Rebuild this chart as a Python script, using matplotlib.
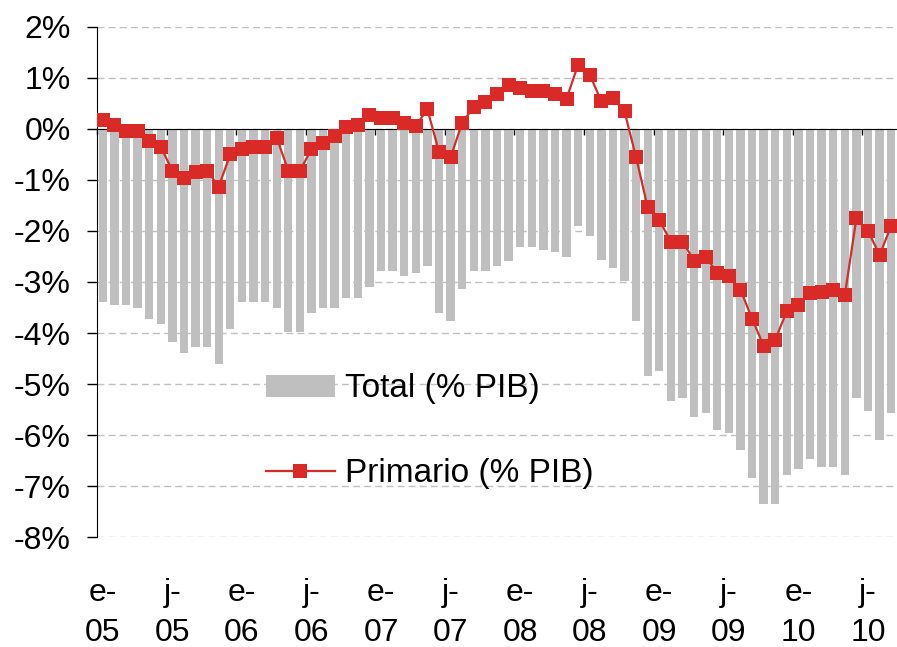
import matplotlib.pyplot as plt
import numpy as np

# ---------------------------------------------------------------
# DATA  (monthly, Jan 2005 - Sep 2010, % of GDP)
# ---------------------------------------------------------------

tick_labels = ["e-\n05", "j-\n05", "e-\n06", "j-\n06", "e-\n07", "j-\n07",
               "e-\n08", "j-\n08", "e-\n09", "j-\n09", "e-\n10", "j-\n10"]

total = [-3.40, -3.46, -3.46, -3.51, -3.72, -3.82, -4.18, -4.40, -4.28, -4.28,
         -4.60, -3.92, -3.40, -3.40, -3.40, -3.51, -3.97, -3.97, -3.61, -3.51,
         -3.51, -3.31, -3.31, -3.09, -2.78, -2.78, -2.88, -2.83, -2.68, -3.61,
         -3.76, -3.14, -2.78, -2.78, -2.68, -2.58, -2.32, -2.32, -2.37, -2.42,
         -2.52, -1.90, -2.10, -2.57, -2.72, -2.98, -3.76, -4.85, -4.75, -5.33,
         -5.27, -5.64, -5.57, -5.90, -5.95, -6.30, -6.83, -7.35, -7.35, -6.78,
         -6.67, -6.47, -6.63, -6.63, -6.78, -5.27, -5.53, -6.09, -5.57]

primario = [0.17, 0.08, -0.04, -0.04, -0.23, -0.35, -0.82, -0.96, -0.85, -0.82,
            -1.13, -0.50, -0.40, -0.35, -0.35, -0.17, -0.82, -0.82, -0.40, -0.28,
            -0.14, 0.03, 0.08, 0.27, 0.22, 0.22, 0.12, 0.06, 0.38, -0.45,
            -0.56, 0.12, 0.43, 0.53, 0.69, 0.85, 0.80, 0.74, 0.74, 0.69,
            0.59, 1.26, 1.06, 0.54, 0.60, 0.34, -0.56, -1.54, -1.79, -2.21,
            -2.21, -2.58, -2.51, -2.82, -2.89, -3.15, -3.72, -4.25, -4.13, -3.57,
            -3.46, -3.21, -3.20, -3.15, -3.26, -1.75, -2.00, -2.47, -1.90]

GRAY = "#BFBFBF"
RED = "#D92A27"

plt.rcParams["font.family"] = ["Liberation Sans", "DejaVu Sans"]

# ---------------------------------------------------------------
# PLOT
# ---------------------------------------------------------------

fig = plt.figure(figsize=(8.97, 6.47), dpi=100)
ax = fig.add_axes([0.1081, 0.1696, 0.8919, 0.7891])

x = np.arange(len(total))
bars = ax.bar(x, total, width=0.72, color=GRAY, zorder=2, label="Total (% PIB)")
line, = ax.plot(x, primario, color=RED, lw=1.6, marker="s", markersize=10,
                markeredgewidth=0, zorder=4, label="Primario (% PIB)")

ax.set_xlim(-0.5, len(total) - 0.5)
ax.set_ylim(-8, 2)

# y axis
ax.set_yticks(np.arange(-8, 3, 1))
ax.set_yticklabels([f"{v}%" for v in range(-8, 3)])
ax.tick_params(axis="y", direction="out", length=7, width=1, pad=12,
               labelsize=23, colors="black")
ax.grid(axis="y", color="#C0C0C0", lw=1, linestyle=(0, (5, 3)), zorder=0)
ax.set_axisbelow(True)

# zero line with tick marks at half-year boundaries
ax.spines["bottom"].set_position(("data", 0))
ax.spines["bottom"].set_zorder(3)
ax.spines["top"].set_visible(False)
ax.spines["right"].set_visible(False)
ax.spines["left"].set_color("black")
ax.set_xticks(np.arange(-0.5, len(total), 6))
ax.tick_params(axis="x", direction="out", length=4.3, width=1, labelbottom=False)

# labels at the bottom of the plot
sec = ax.secondary_xaxis("bottom")
sec.set_xticks(np.arange(0, len(total), 6))
sec.set_xticklabels(tick_labels, linespacing=1.45)
sec.tick_params(length=0, pad=29, labelsize=23)
sec.spines["bottom"].set_visible(False)

ax.legend([bars, line], ["Total (% PIB)", "Primario (% PIB)"],
          loc="upper left", bbox_to_anchor=(0.195, 0.347), frameon=False,
          fontsize=24, handlelength=2.05, handleheight=0.62,
          handletextpad=0.3, labelspacing=1.62, borderaxespad=0)

fig.savefig("out.png", dpi=100)
